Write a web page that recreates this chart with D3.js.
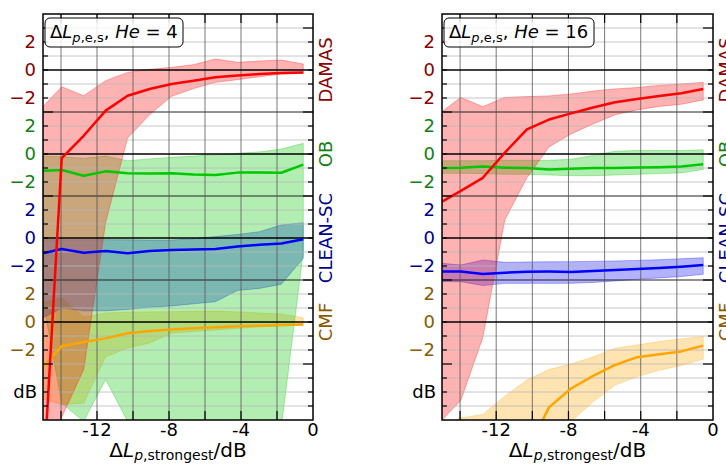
<!DOCTYPE html>
<html>
<meta charset="utf-8">
<style>
body { margin: 0; background: #fff; }
text { font-family: "DejaVu Sans", sans-serif; white-space: pre; }
</style>
<body>
<svg id="chart" width="726" height="466"></svg>
<script src="https://cdn.jsdelivr.net/npm/d3@7"></script>
<script>
// level difference to the strongest source (bin centres), dB
var dL = [-15.0, -13.96, -12.74, -11.52, -10.30, -9.08, -7.86, -6.64, -5.42, -4.20, -2.98, -1.76, -0.54];

// He = 4 : mean, upper and lower bound per method
var he4DamasMid = [-29.7, -6.3, -4.7, -2.9, -1.84, -1.36, -1.0, -0.76, -0.52, -0.40, -0.29, -0.21, -0.17];
var he4DamasHi  = [-2.6, -1.19, -1.84, -0.76, -0.17, 0.05, 0.19, 0.38, 0.79, 0.55, 0.64, 0.71, 0.43];
var he4DamasLo  = [-32, -24.8, -21.4, -10.9, -4.86, -3.2, -1.88, -1.33, -0.88, -0.69, -0.48, -0.29, -0.24];
var he4ObMid    = [-1.19, -1.14, -1.55, -1.24, -1.38, -1.39, -1.38, -1.46, -1.5, -1.33, -1.32, -1.34, -0.76];
var he4ObHi     = [-0.15, -0.2, -0.3, -0.15, -0.48, -0.35, -0.24, -0.15, -0.05, 0.05, 0.15, 0.36, 0.76];
var he4ObLo     = [-10.5, -17.8, -19.1, -16.1, -19.1, -21, -21, -21, -21, -21, -21, -19.5, -7.0];
var he4CleanMid = [-1.09, -0.79, -1.05, -0.93, -1.09, -0.93, -0.86, -0.82, -0.79, -0.6, -0.48, -0.4, -0.09];
var he4CleanHi  = [-0.12, -0.12, -0.12, -0.12, -0.13, -0.15, -0.15, -0.05, 0.1, 0.25, 0.45, 0.93, 1.09];
var he4CleanLo  = [-5.7, -5.0, -5.2, -5.2, -5.1, -4.95, -4.85, -4.7, -4.55, -3.75, -3.6, -3.3, -1.45];
var he4CmfMid   = [-3.2, -1.72, -1.43, -1.17, -0.81, -0.64, -0.53, -0.45, -0.37, -0.3, -0.26, -0.21, -0.17];
var he4CmfHi    = [1.4, 1.7, 0.35, 0.64, 0.7, 0.72, 0.74, 0.76, 0.78, 0.72, 0.65, 0.57, 0.3];
var he4CmfLo    = [-5.5, -5.9, -5.8, -2.48, -1.86, -1.5, -0.8, -0.68, -0.57, -0.45, -0.35, -0.28, -0.21];

// He = 16
var he16DamasMid = [-9.4, -8.63, -7.7, -5.9, -4.24, -3.54, -3.1, -2.68, -2.3, -2.07, -1.86, -1.66, -1.36];
var he16DamasHi  = [-2.98, -1.95, -2.62, -1.95, -1.9, -1.85, -1.71, -1.5, -1.35, -1.25, -1.1, -1.0, -0.88];
var he16DamasLo  = [-25.0, -23.6, -19.1, -10.7, -7.7, -5.5, -4.57, -3.85, -3.2, -2.85, -2.6, -2.45, -2.14];
var he16ObMid    = [-1.0, -0.98, -0.9, -0.98, -1.0, -1.1, -1.05, -1.0, -1.0, -0.97, -0.95, -0.9, -0.73];
var he16ObHi     = [-0.48, -0.48, -0.48, -0.45, -0.45, -0.45, -0.38, -0.1, 0.2, 0.25, 0.25, 0.25, 0.3];
var he16ObLo     = [-1.38, -1.38, -1.4, -1.45, -1.45, -1.5, -1.55, -1.55, -1.5, -1.45, -1.4, -1.35, -1.1];
var he16CleanMid = [-2.4, -2.4, -2.57, -2.48, -2.41, -2.4, -2.42, -2.35, -2.29, -2.22, -2.14, -2.05, -1.93];
var he16CleanHi  = [-1.81, -1.93, -1.57, -1.74, -1.71, -1.7, -1.69, -1.67, -1.64, -1.6, -1.55, -1.48, -1.41];
var he16CleanLo  = [-3.12, -3.12, -3.4, -3.24, -3.24, -3.24, -3.24, -3.17, -3.07, -2.95, -2.85, -2.75, -2.59];
var he16CmfMid   = [-18, -16, -14, -12, -9.3, -6.1, -4.75, -3.85, -3.07, -2.51, -2.3, -2.1, -1.69];
var he16CmfHi    = [-7.3, -6.85, -6.6, -5.3, -4.15, -3.4, -3.0, -2.5, -1.88, -1.64, -1.4, -1.21, -1.04];
var he16CmfLo    = [-20, -18, -16, -14, -11, -9, -7.1, -5.7, -4.5, -3.9, -3.45, -3.1, -2.65];

var methods = ["DAMAS", "OB", "CLEAN-SC", "CMF"];
var offsets = [18, 12, 6, 0];
var yTickVals = [2, 0, -2];
var xTickVals = [-12, -8, -4, 0];

var lineColors  = ["#ff0000", "#00c800", "#0000ff", "#ffa500"];
var labelColors = ["#8b0000", "#118011", "#00008b", "#8b5a00"];

var panels = [
  { left: 43, right: 313, he: "4", boxW: 138,
    series: [[he4DamasMid, he4DamasHi, he4DamasLo], [he4ObMid, he4ObHi, he4ObLo],
             [he4CleanMid, he4CleanHi, he4CleanLo], [he4CmfMid, he4CmfHi, he4CmfLo]] },
  { left: 442, right: 713, he: "16", boxW: 150,
    series: [[he16DamasMid, he16DamasHi, he16DamasLo], [he16ObMid, he16ObHi, he16ObLo],
             [he16CleanMid, he16CleanHi, he16CleanLo], [he16CmfMid, he16CmfHi, he16CmfLo]] }
];

var svg = d3.select("#chart");
var plotTop = 14, plotBottom = 420;
var y = d3.scaleLinear().domain([-7, 22]).range([plotBottom, plotTop]);
var fs = 18;

panels.forEach(function(p, pi) {
  var x = d3.scaleLinear().domain([-15, 0]).range([p.left, p.right]);
  var g = svg.append("g");

  g.append("clipPath").attr("id", "clip-" + pi)
    .append("rect").attr("x", p.left).attr("y", plotTop)
    .attr("width", p.right - p.left).attr("height", plotBottom - plotTop);

  var plot = g.append("g").attr("clip-path", "url(#clip-" + pi + ")");

  // bands, bottom method first so DAMAS ends on top
  for (var k = methods.length - 1; k >= 0; k--) {
    var s = p.series[k], off = offsets[k];
    var pts = dL.map(function(v, i) { return { x: v, hi: s[1][i], lo: s[2][i] }; });
    var area = d3.area()
      .x(function(d) { return x(d.x); })
      .y0(function(d) { return y(off + d.lo); })
      .y1(function(d) { return y(off + d.hi); });
    plot.append("path").attr("d", area(pts))
      .attr("fill", lineColors[k]).attr("fill-opacity", 0.3)
      .attr("stroke", lineColors[k]).attr("stroke-opacity", 0.3).attr("stroke-width", 1);
  }

  // grid
  d3.range(-6, 22).forEach(function(v) {
    var isZero = offsets.indexOf(v) >= 0;
    var isEdge = [3, 9, 15].indexOf(v) >= 0;
    if (isZero) return;
    plot.append("line").attr("x1", p.left).attr("x2", p.right)
      .attr("y1", y(v)).attr("y2", y(v))
      .attr("stroke", isEdge ? "#222" : "#b8b8b8").attr("stroke-width", isEdge ? 1 : 0.8);
  });
  d3.range(-14, 0, 2).forEach(function(v) {
    plot.append("line").attr("x1", x(v)).attr("x2", x(v))
      .attr("y1", plotTop).attr("y2", plotBottom)
      .attr("stroke", "#555").attr("stroke-width", 0.8);
  });
  offsets.forEach(function(off) {
    plot.append("line").attr("x1", p.left).attr("x2", p.right)
      .attr("y1", y(off)).attr("y2", y(off))
      .attr("stroke", "#000").attr("stroke-width", 1.6);
  });

  // mean lines
  for (var k2 = methods.length - 1; k2 >= 0; k2--) {
    var s2 = p.series[k2], off2 = offsets[k2];
    var line = d3.line()
      .x(function(d, i) { return x(dL[i]); })
      .y(function(d) { return y(off2 + d); });
    plot.append("path").attr("d", line(s2[0]))
      .attr("fill", "none").attr("stroke", lineColors[k2])
      .attr("stroke-width", 2.5).attr("stroke-linejoin", "round");
  }

  // ticks, inward on all four sides
  d3.range(-6, 22).forEach(function(v) {
    var len = [21, 15, 9, 3, -3].indexOf(v) >= 0 ? 10 : 5;
    g.append("line").attr("x1", p.left).attr("x2", p.left + len)
      .attr("y1", y(v)).attr("y2", y(v)).attr("stroke", "#000").attr("stroke-width", 1.2);
    g.append("line").attr("x1", p.right - len).attr("x2", p.right)
      .attr("y1", y(v)).attr("y2", y(v)).attr("stroke", "#000").attr("stroke-width", 1.2);
  });
  d3.range(-14, 0, 2).forEach(function(v) {
    g.append("line").attr("x1", x(v)).attr("x2", x(v))
      .attr("y1", plotTop).attr("y2", plotTop + 9).attr("stroke", "#000").attr("stroke-width", 1.2);
    g.append("line").attr("x1", x(v)).attr("x2", x(v))
      .attr("y1", plotBottom - 9).attr("y2", plotBottom).attr("stroke", "#000").attr("stroke-width", 1.2);
  });

  g.append("rect").attr("x", p.left).attr("y", plotTop)
    .attr("width", p.right - p.left).attr("height", plotBottom - plotTop)
    .attr("fill", "none").attr("stroke", "#000").attr("stroke-width", 1.5);

  // y tick labels, one colour per method
  methods.forEach(function(m, k) {
    yTickVals.forEach(function(t) {
      g.append("text").attr("x", p.left - 7).attr("y", y(offsets[k] + t))
        .attr("dy", "0.36em").attr("text-anchor", "end")
        .attr("font-size", fs).attr("fill", labelColors[k])
        .text(t < 0 ? "\u2212" + Math.abs(t) : String(t));
    });
    g.append("text")
      .attr("transform", "translate(" + (p.right + 13) + "," + y(offsets[k]) + ") rotate(-90)")
      .attr("text-anchor", "middle").attr("dy", "0.36em")
      .attr("font-size", fs).attr("fill", labelColors[k]).text(m);
  });
  g.append("text").attr("x", p.left - 6).attr("y", y(-5)).attr("dy", "0.36em")
    .attr("text-anchor", "end").attr("font-size", fs).text("dB");

  // x tick labels
  xTickVals.forEach(function(t) {
    g.append("text").attr("x", x(t)).attr("y", 436)
      .attr("text-anchor", "middle").attr("font-size", fs).text(String(t));
  });

  // x axis label
  var xl = g.append("text").attr("x", (p.left + p.right) / 2).attr("y", 457)
    .attr("text-anchor", "middle").attr("font-size", 20);
  xl.append("tspan").text("\u0394");
  xl.append("tspan").attr("font-style", "italic").text("L");
  xl.append("tspan").attr("font-style", "italic").attr("font-size", 14).attr("dy", 3).text("p");
  xl.append("tspan").attr("font-size", 14).text(",strongest");
  xl.append("tspan").attr("dy", -3).text("/dB");

  // title box
  g.append("rect").attr("x", p.left + 2).attr("y", 18).attr("width", p.boxW).attr("height", 29)
    .attr("rx", 5).attr("fill", "#fff").attr("fill-opacity", 0.85)
    .attr("stroke", "#000").attr("stroke-width", 1);
  var tt = g.append("text").attr("x", p.left + 7).attr("y", 38).attr("font-size", fs);
  tt.append("tspan").text("\u0394");
  tt.append("tspan").attr("font-style", "italic").text("L");
  tt.append("tspan").attr("font-style", "italic").attr("font-size", 13).attr("dy", 4).text("p");
  tt.append("tspan").attr("font-size", 13).text(",e,s");
  tt.append("tspan").attr("dy", -4).text(", ");
  tt.append("tspan").attr("font-style", "italic").text("He");
  tt.append("tspan").text(" = " + p.he);
});
</script>
</body>
</html>
